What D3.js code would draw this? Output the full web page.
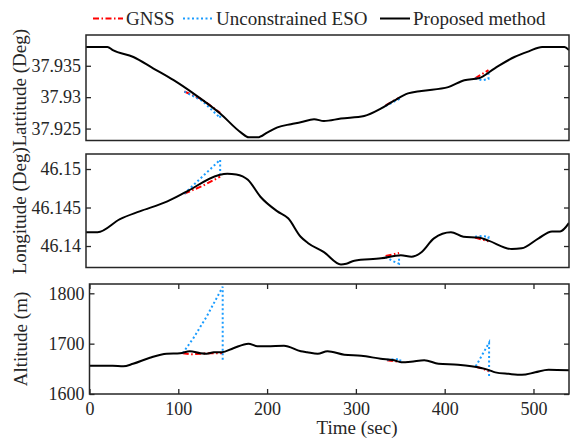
<!DOCTYPE html>
<html>
<head>
<meta charset="utf-8">
<script src="https://cdn.jsdelivr.net/npm/d3@7"></script>
<style>
  body { margin: 0; background: #fff; }
  svg text { font-family: "Liberation Serif", "Times New Roman", serif; fill: #262626; }
</style>
</head>
<body>
<div id="chart"></div>
<script>
// ---- data: [time (sec), value] ----
const xTicks = [0, 100, 200, 300, 400, 500];

const latTicks = [37.925, 37.93, 37.935];
const latLabels = ["37.925", "37.93", "37.935"];
const latProposed = [[0,37.938],[24,37.938],[30,37.9375],[53,37.9364],[75,37.9346],[98,37.9327],[120,37.9306],[150,37.9274],
  [173,37.9244],[182,37.9236],[192,37.9236],[203,37.9244],[214,37.9252],[229,37.9257],[240,37.926],[255,37.9265],
  [266,37.9262],[285,37.9266],[311,37.927],[330,37.9282],[345,37.9295],[360,37.9306],[375,37.931],[405,37.9316],
  [423,37.9327],[439,37.933],[457,37.9346],[479,37.9364],[495,37.9373],[510,37.938],[535,37.938],[540,37.9375]];
const latGnss = [
  [[110,37.9309],[130,37.9296],[150,37.9275]],
  [[335,37.9287],[350,37.9299]],
  [[435,37.9330],[450,37.9343]]];
const latEso = [
  [[110,37.9309],[130,37.9294],[150,37.9267],[150,37.9274]],
  [[335,37.9286],[350,37.9297],[350,37.93]],
  [[435,37.933],[443,37.9327],[450,37.9329],[450,37.9342]]];

const lonTicks = [46.14, 46.145, 46.15];
const lonLabels = ["46.14", "46.145", "46.15"];
const lonProposed = [[0,46.1418],[13,46.1418],[38,46.1435],[60,46.1445],[91,46.1458],[113,46.1471],[148,46.1492],
  [158,46.1494],[168,46.1493],[181,46.1486],[195,46.1464],[214,46.1445],[226,46.1436],[240,46.1412],[248,46.1404],
  [266,46.1392],[285,46.1376],[291,46.1377],[300,46.1381],[330,46.1384],[352,46.1388],[364,46.1386],[375,46.1392],
  [389,46.141],[408,46.1418],[422,46.1412],[439,46.1411],[450,46.1407],[476,46.1396],[487,46.1397],[506,46.141],
  [521,46.1419],[530,46.1419],[540,46.143]];
const lonGnss = [
  [[110,46.1468],[130,46.1478],[150,46.149]],
  [[335,46.1387],[350,46.1391]],
  [[435,46.1411],[450,46.1406]]];
const lonEso = [
  [[110,46.1468],[130,46.149],[150,46.1512],[150,46.1493]],
  [[335,46.1386],[342,46.1381],[350,46.1377],[350,46.1388]],
  [[435,46.1412],[443,46.1413],[450,46.1412],[450,46.1406]]];

const altTicks = [1600, 1700, 1800];
const altLabels = ["1600", "1700", "1800"];
const altProposed = [[0,1656],[26,1656],[38,1655],[49,1660],[68,1672],[87,1680],[102,1681],[113,1685],[125,1681],
  [132,1680],[140,1683],[149,1683],[162,1691],[179,1700],[189,1695],[200,1695],[219,1696],[238,1685],[245,1683],
  [257,1680],[268,1685],[287,1678],[306,1676],[328,1670],[343,1667],[351,1663],[362,1664],[377,1667],[393,1660],
  [415,1658],[430,1655],[449,1648],[457,1643],[472,1640],[487,1638],[502,1643],[517,1648],[540,1647]];
const altGnss = [
  [[105,1681],[115,1679],[125,1680],[135,1681],[150,1681]],
  [[335,1667],[350,1664]],
  [[435,1654],[442,1651],[450,1645]]];
const altEso = [
  [[105,1681],[117,1711],[132,1754],[150,1813],[150,1665]],
  [[335,1668],[343,1669],[350,1669],[350,1663]],
  [[435,1655],[450,1702],[450,1634]]];

const width = 570, height = 443;
const ink = "#262626";
const gnssColor = "#ff0000", esoColor = "#1a9cff";

const svg = d3.select("#chart").append("svg")
  .attr("width", width)
  .attr("height", height);

const panels = [
  { top: 35, bottom: 140.5, left: 86, domain: [37.9231, 37.9399], ticks: latTicks, labels: latLabels,
    proposed: latProposed, gnss: latGnss, eso: latEso, title: "Lattitude (Deg)", tx: 26, xAxis: false },
  { top: 154, bottom: 267.5, left: 86, domain: [46.13721, 46.15195], ticks: lonTicks, labels: lonLabels,
    proposed: lonProposed, gnss: lonGnss, eso: lonEso, title: "Longitude (Deg)", tx: 26, xAxis: false },
  { top: 284, bottom: 394, left: 89.5, domain: [1600, 1818.5], ticks: altTicks, labels: altLabels,
    proposed: altProposed, gnss: altGnss, eso: altEso, title: "Altitude (m)", tx: 27, xAxis: true }
];
const right = 569;

panels.forEach((p, i) => {
  const x = d3.scaleLinear().domain([0, 540]).range([p.left, right]);
  const y = d3.scaleLinear().domain(p.domain).range([p.bottom, p.top]);
  const g = svg.append("g");

  const clipId = "clip" + i;
  g.append("clipPath").attr("id", clipId)
    .append("rect")
    .attr("x", p.left).attr("y", p.top)
    .attr("width", right - p.left).attr("height", p.bottom - p.top);

  const line = d3.line().x(d => x(d[0])).y(d => y(d[1]));
  const smooth = d3.line().x(d => x(d[0])).y(d => y(d[1])).curve(d3.curveMonotoneX);

  const plot = g.append("g").attr("clip-path", "url(#" + clipId + ")");
  plot.selectAll(".gnss").data(p.gnss).enter().append("path")
    .attr("d", line).attr("fill", "none")
    .attr("stroke", gnssColor).attr("stroke-width", 2)
    .attr("stroke-dasharray", "6,2.5,1.5,2.5");
  plot.selectAll(".eso").data(p.eso).enter().append("path")
    .attr("d", line).attr("fill", "none")
    .attr("stroke", esoColor).attr("stroke-width", 2)
    .attr("stroke-dasharray", "2,2.5");
  plot.append("path").datum(p.proposed)
    .attr("d", smooth).attr("fill", "none")
    .attr("stroke", "#000").attr("stroke-width", 2);

  // y axes, ticks pointing inward
  g.append("g")
    .attr("transform", "translate(" + p.left + ",0)")
    .call(d3.axisLeft(y).tickValues(p.ticks).tickSizeInner(-5).tickSizeOuter(0).tickPadding(5)
      .tickFormat((d, k) => p.labels[k]))
    .call(a => a.select(".domain").remove())
    .call(a => a.selectAll("line").attr("stroke", ink).attr("stroke-width", 1.3))
    .call(a => a.selectAll("text").attr("font-size", 18).attr("fill", ink));
  g.append("g")
    .attr("transform", "translate(" + right + ",0)")
    .call(d3.axisRight(y).tickValues(p.ticks).tickSizeInner(-5).tickSizeOuter(0).tickFormat(""))
    .call(a => a.select(".domain").remove())
    .call(a => a.selectAll("line").attr("stroke", ink).attr("stroke-width", 1.3));

  if (p.xAxis) {
    g.append("g")
      .attr("transform", "translate(0," + p.bottom + ")")
      .call(d3.axisBottom(x).tickValues(xTicks).tickSizeInner(-5).tickSizeOuter(0).tickPadding(8))
      .call(a => a.select(".domain").remove())
      .call(a => a.selectAll("line").attr("stroke", ink).attr("stroke-width", 1.3))
      .call(a => a.selectAll("text").attr("font-size", 18).attr("fill", ink));
    g.append("g")
      .attr("transform", "translate(0," + p.top + ")")
      .call(d3.axisTop(x).tickValues(xTicks).tickSizeInner(-5).tickSizeOuter(0).tickFormat(""))
      .call(a => a.select(".domain").remove())
      .call(a => a.selectAll("line").attr("stroke", ink).attr("stroke-width", 1.3));
  }

  // frame
  g.append("rect")
    .attr("x", p.left).attr("y", p.top)
    .attr("width", right - p.left).attr("height", p.bottom - p.top)
    .attr("fill", "none").attr("stroke", ink).attr("stroke-width", 1.5);

  g.append("text")
    .attr("transform", "translate(" + p.tx + "," + ((p.top + p.bottom) / 2) + ") rotate(-90)")
    .attr("text-anchor", "middle")
    .attr("font-size", 19)
    .text(p.title);
});

svg.append("text")
  .attr("x", 357).attr("y", 434)
  .attr("text-anchor", "middle")
  .attr("font-size", 19)
  .text("Time (sec)");

// legend
const legendItems = [
  { name: "GNSS", color: gnssColor, dash: "6,2.5,1.5,2.5", x: 93 },
  { name: "Unconstrained ESO", color: esoColor, dash: "2,2.5", x: 183 },
  { name: "Proposed method", color: "#000", dash: null, x: 380 }
];
const legend = svg.append("g");
legendItems.forEach(it => {
  legend.append("line")
    .attr("x1", it.x).attr("x2", it.x + 30)
    .attr("y1", 18.5).attr("y2", 18.5)
    .attr("stroke", it.color).attr("stroke-width", 2)
    .attr("stroke-dasharray", it.dash);
  legend.append("text")
    .attr("x", it.x + 33).attr("y", 25)
    .attr("font-size", 19)
    .text(it.name);
});
</script>
</body>
</html>
